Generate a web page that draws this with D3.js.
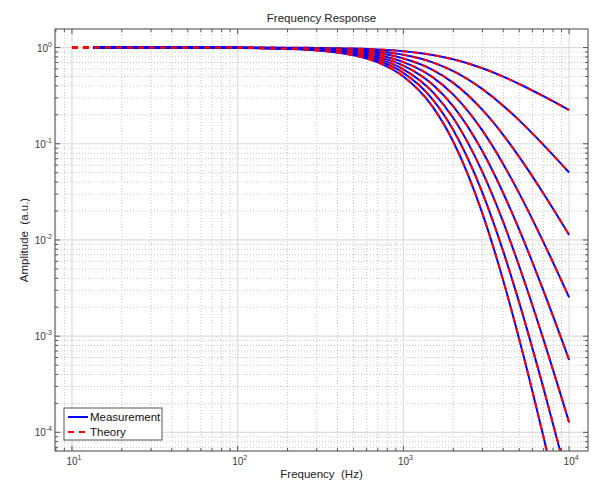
<!DOCTYPE html>
<html>
<head>
<meta charset="utf-8">
<script src="https://cdn.jsdelivr.net/npm/d3@7"></script>
<style>
  html, body { margin: 0; padding: 0; background: #fff; }
  svg { display: block; font-family: "Liberation Sans", Arial, Helvetica, sans-serif; }
</style>
</head>
<body>
<svg id="chart" width="600" height="500"></svg>
<script>
// ---------------- data ----------------
const freqs = [10, 13.4, 20, 50, 100, 200, 300, 500, 700, 1000, 1500, 2000, 3000, 4000, 5000, 7000, 10000];
const order1 = [1.0, 1.0, 1.0, 1.0, 0.999, 0.996, 0.992, 0.977, 0.957, 0.917, 0.838, 0.755, 0.609, 0.499, 0.418, 0.312, 0.224];
const order2 = [1.0, 1.0, 1.0, 1.0, 0.998, 0.992, 0.983, 0.955, 0.915, 0.841, 0.702, 0.569, 0.370, 0.249, 0.175, 0.0975, 0.0503];
const order3 = [1.0, 1.0, 1.0, 0.999, 0.997, 0.989, 0.975, 0.933, 0.876, 0.771, 0.588, 0.430, 0.225, 0.124, 0.073, 0.0304, 0.0113];
const order4 = [1.0, 1.0, 1.0, 0.999, 0.996, 0.985, 0.967, 0.912, 0.838, 0.707, 0.493, 0.324, 0.137, 0.0618, 0.0305, 0.0095, 0.00253];
const order5 = [1.0, 1.0, 1.0, 0.999, 0.995, 0.981, 0.959, 0.891, 0.801, 0.649, 0.413, 0.245, 0.0834, 0.0308, 0.0128, 0.00297, 0.000567];
const order6 = [1.0, 1.0, 0.999, 0.999, 0.994, 0.978, 0.951, 0.871, 0.767, 0.595, 0.346, 0.185, 0.0507, 0.0154, 0.00533, 0.000926, 0.000127];
const order7 = [1.0, 1.0, 0.999, 0.998, 0.993, 0.974, 0.943, 0.851, 0.733, 0.546, 0.290, 0.139, 0.0309, 0.00765, 0.00223, 0.000289, 0.0000285];
const order8 = [1.0, 1.0, 0.999, 0.998, 0.992, 0.970, 0.935, 0.831, 0.702, 0.500, 0.243, 0.105, 0.0188, 0.00381, 0.000931, 0.0000903, 0.0000064];
const seriesList = [order1, order2, order3, order4, order5, order6, order7, order8];
const measurementStart = 1; // measurement begins at 13.4 Hz, theory at 10 Hz

const xTickExps = [1, 2, 3, 4];
const yTickExps = [0, -1, -2, -3, -4];
const titleText = "Frequency Response";
const xLabelText = "Frequency  (Hz)";
const yLabelText = "Amplitude  (a.u.)";
const legendLabels = ["Measurement", "Theory"];

// ---------------- layout ----------------
const svg = d3.select("#chart");
const L = 55, R = 588, T = 29, B = 451;
const x = d3.scaleLog().domain([7.9, 13000]).range([L, R]);
const y = d3.scaleLog().domain([6.4e-5, 1.56]).range([B, T]);
const textColor = "#3a3a3a";

// minor/major tick values
const xMajor = xTickExps.map(e => Math.pow(10, e));
const xMinor = [];
for (let e = 0; e <= 4; e++) for (let k = 2; k <= 9; k++) {
  const v = k * Math.pow(10, e);
  if (v >= x.domain()[0] && v <= x.domain()[1]) xMinor.push(v);
}
const yMajor = yTickExps.map(e => Math.pow(10, e));
const yMinor = [];
for (let e = -5; e <= 0; e++) for (let k = 2; k <= 9; k++) {
  const v = k * Math.pow(10, e);
  if (v >= y.domain()[0] && v <= y.domain()[1]) yMinor.push(v);
}

const g = svg.append("g");

// minor grid (dotted)
g.append("g").selectAll("line").data(xMinor).join("line")
  .attr("x1", d => x(d)).attr("x2", d => x(d)).attr("y1", T).attr("y2", B)
  .attr("stroke", "#c8c8c8").attr("stroke-width", 1).attr("stroke-dasharray", "1,2");
g.append("g").selectAll("line").data(yMinor).join("line")
  .attr("y1", d => y(d)).attr("y2", d => y(d)).attr("x1", L).attr("x2", R)
  .attr("stroke", "#c8c8c8").attr("stroke-width", 1).attr("stroke-dasharray", "1,2");
// major grid
g.append("g").selectAll("line").data(xMajor).join("line")
  .attr("x1", d => x(d)).attr("x2", d => x(d)).attr("y1", T).attr("y2", B)
  .attr("stroke", "#dcdcdc").attr("stroke-width", 1.2);
g.append("g").selectAll("line").data(yMajor).join("line")
  .attr("y1", d => y(d)).attr("y2", d => y(d)).attr("x1", L).attr("x2", R)
  .attr("stroke", "#dcdcdc").attr("stroke-width", 1.2);

// clip
svg.append("defs").append("clipPath").attr("id", "clip")
  .append("rect").attr("x", L).attr("y", T).attr("width", R - L).attr("height", B - T);

const line = d3.line()
  .x(d => x(d[0])).y(d => y(d[1]))
  .curve(d3.curveMonotoneX);

const curves = svg.append("g").attr("clip-path", "url(#clip)");
seriesList.forEach(vals => {
  const meas = freqs.map((f, i) => [f, vals[i]]).slice(measurementStart);
  const theo = freqs.map((f, i) => [f, vals[i]]);
  curves.append("path").attr("d", line(meas))
    .attr("fill", "none").attr("stroke", "#0000ff").attr("stroke-width", 2);
  curves.append("path").attr("d", line(theo))
    .attr("fill", "none").attr("stroke", "#ff0000").attr("stroke-width", 2)
    .attr("stroke-dasharray", "6,5");
});

// frame
svg.append("rect").attr("x", L).attr("y", T).attr("width", R - L).attr("height", B - T)
  .attr("fill", "none").attr("stroke", "#6e6e6e").attr("stroke-width", 1.3);

// ticks (inside, all four sides)
const tk = svg.append("g").attr("stroke", "#555").attr("stroke-width", 1);
function hTicks(vals, len) {
  vals.forEach(v => {
    tk.append("line").attr("x1", x(v)).attr("x2", x(v)).attr("y1", B).attr("y2", B - len);
    tk.append("line").attr("x1", x(v)).attr("x2", x(v)).attr("y1", T).attr("y2", T + len);
  });
}
function vTicks(vals, len) {
  vals.forEach(v => {
    tk.append("line").attr("y1", y(v)).attr("y2", y(v)).attr("x1", L).attr("x2", L + len);
    tk.append("line").attr("y1", y(v)).attr("y2", y(v)).attr("x1", R).attr("x2", R - len);
  });
}
hTicks(xMajor, 5); hTicks(xMinor, 3);
vTicks(yMajor, 5); vTicks(yMinor, 3);

// tick labels
function powLabel(sel, e) {
  sel.append("tspan").text("10");
  sel.append("tspan").attr("font-size", 7).attr("dy", -5).text(String(e));
}
xTickExps.forEach(e => {
  const t = svg.append("text").attr("x", x(Math.pow(10, e)) + 2).attr("y", 465)
    .attr("text-anchor", "middle").attr("font-size", 10).attr("fill", textColor);
  powLabel(t, e);
});
yTickExps.forEach(e => {
  const t = svg.append("text").attr("x", 52).attr("y", y(Math.pow(10, e)) + 4)
    .attr("text-anchor", "end").attr("font-size", 10).attr("fill", textColor);
  powLabel(t, e);
});

// title & axis labels
svg.append("text").attr("x", (L + R) / 2).attr("y", 22).attr("text-anchor", "middle")
  .attr("font-size", 11.5).attr("fill", "#222").text(titleText);
svg.append("text").attr("x", (L + R) / 2).attr("y", 478).attr("text-anchor", "middle")
  .attr("font-size", 11.5).attr("fill", "#222").style("white-space", "pre").text(xLabelText);
svg.append("text").attr("transform", `translate(28,${(T + B) / 2}) rotate(-90)`)
  .attr("text-anchor", "middle").attr("font-size", 11.5).attr("fill", "#222")
  .style("white-space", "pre").text(yLabelText);

// legend
const lg = svg.append("g");
lg.append("rect").attr("x", 64).attr("y", 408).attr("width", 98).attr("height", 32)
  .attr("fill", "#fff").attr("stroke", "#555").attr("stroke-width", 1);
lg.append("line").attr("x1", 68).attr("x2", 88).attr("y1", 417).attr("y2", 417)
  .attr("stroke", "#0000ff").attr("stroke-width", 2);
lg.append("line").attr("x1", 68).attr("x2", 88).attr("y1", 432).attr("y2", 432)
  .attr("stroke", "#ff0000").attr("stroke-width", 2).attr("stroke-dasharray", "6,5");
lg.append("text").attr("x", 90).attr("y", 421).attr("font-size", 11.5).attr("fill", "#111").text(legendLabels[0]);
lg.append("text").attr("x", 90).attr("y", 436).attr("font-size", 11.5).attr("fill", "#111").text(legendLabels[1]);
</script>
</body>
</html>
